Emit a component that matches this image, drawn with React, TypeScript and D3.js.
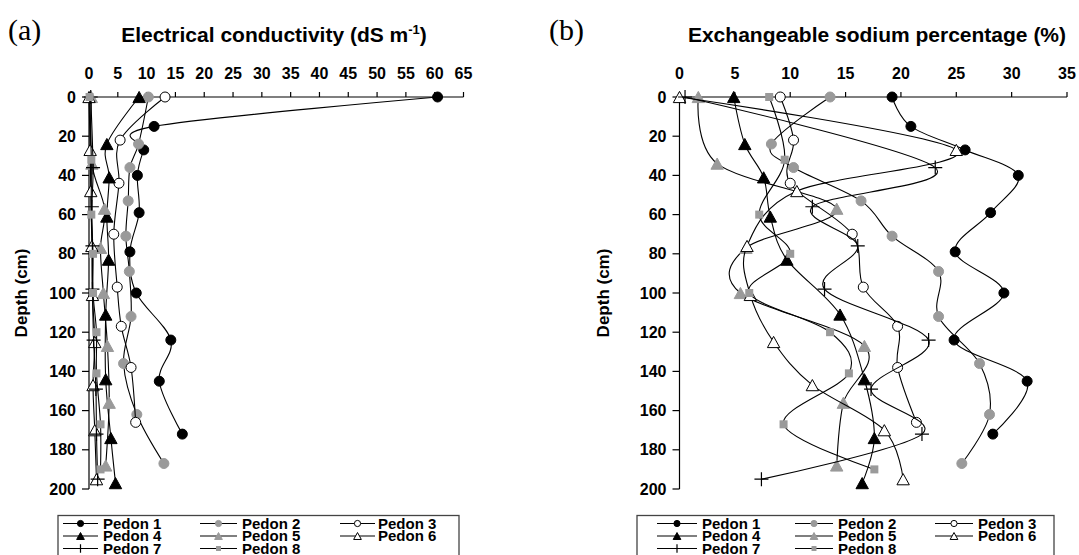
import React from "react";
import * as d3 from "d3";

const pedonNames = ["Pedon 1", "Pedon 2", "Pedon 3", "Pedon 4", "Pedon 5", "Pedon 6", "Pedon 7", "Pedon 8"];

// sampling depths (cm) of each pedon
const depthP1 = [0, 15, 27, 40, 59, 79, 100, 124, 145, 172];
const depthP2 = [0, 24, 36, 53, 71, 89, 112, 136, 162, 187];
const depthP3 = [0, 22, 44, 70, 97, 117, 138, 166];
const depthP4 = [0, 24, 41, 61, 83, 111, 144, 174, 197];
const depthP5 = [0, 34, 57, 77, 100, 127, 156, 188];
const depthP6 = [0, 27, 48, 76, 101, 125, 147, 170, 195];
const depthP7 = [0, 36, 56, 76, 98, 124, 149, 172, 195];
const depthP8 = [0, 32, 60, 80, 100, 120, 141, 167, 190];

// electrical conductivity (dS m-1)
const ecP1 = [60.5, 11.3, 9.5, 8.4, 8.7, 7.1, 8.2, 14.2, 12.2, 16.2];
const ecP2 = [10.3, 8.6, 7.1, 6.8, 6.4, 7.0, 7.3, 6.0, 8.3, 13.0];
const ecP3 = [13.2, 5.4, 5.2, 4.3, 4.9, 5.6, 7.3, 8.1];
const ecP4 = [8.7, 3.1, 3.5, 3.1, 3.4, 2.9, 2.9, 3.8, 4.6];
const ecP5 = [0.4, 0.5, 2.7, 2.0, 2.5, 3.2, 3.5, 2.9];
const ecP6 = [0.0, 0.2, 0.3, 0.5, 0.6, 1.0, 0.7, 1.0, 1.3];
const ecP7 = [0.3, 0.7, 0.5, 0.6, 0.6, 0.8, 1.2, 1.3, 1.5];
const ecP8 = [0.1, 0.4, 0.4, 0.7, 0.7, 1.3, 1.3, 2.0, 2.0];

// exchangeable sodium percentage (%)
const espP1 = [19.2, 20.9, 25.8, 30.6, 28.1, 24.9, 29.3, 24.8, 31.4, 28.3];
const espP2 = [13.6, 8.3, 10.3, 16.4, 19.2, 23.4, 23.4, 27.1, 28.0, 25.5];
const espP3 = [9.1, 10.3, 10.0, 15.6, 16.6, 19.7, 19.7, 21.4];
const espP4 = [4.9, 5.9, 7.6, 8.2, 9.7, 14.5, 16.7, 17.6, 16.5];
const espP5 = [1.7, 3.4, 14.2, 6.0, 5.5, 16.7, 14.8, 14.2];
const espP6 = [0.0, 25.0, 10.6, 6.1, 6.4, 8.5, 12.0, 18.5, 20.2];
const espP7 = [0.5, 23.1, 12.0, 16.1, 13.1, 22.5, 17.3, 21.9, 7.4];
const espP8 = [8.1, 9.5, 7.2, 10.0, 6.3, 13.6, 15.3, 9.4, 17.6];

const ecTicks = [0, 5, 10, 15, 20, 25, 30, 35, 40, 45, 50, 55, 60, 65];
const espTicks = [0, 5, 10, 15, 20, 25, 30, 35];
const depthTicks = [0, 20, 40, 60, 80, 100, 120, 140, 160, 180, 200];

const depths = [depthP1, depthP2, depthP3, depthP4, depthP5, depthP6, depthP7, depthP8];
const ecSeries = [ecP1, ecP2, ecP3, ecP4, ecP5, ecP6, ecP7, ecP8];
const espSeries = [espP1, espP2, espP3, espP4, espP5, espP6, espP7, espP8];

type MarkerStyle = { shape: "circle" | "triangle" | "square" | "plus"; fill: string; stroke: string };
const GRAY = "#9a9a9a";
const markerStyles: MarkerStyle[] = [
  { shape: "circle", fill: "#000", stroke: "#000" },
  { shape: "circle", fill: GRAY, stroke: GRAY },
  { shape: "circle", fill: "#fff", stroke: "#000" },
  { shape: "triangle", fill: "#000", stroke: "#000" },
  { shape: "triangle", fill: GRAY, stroke: GRAY },
  { shape: "triangle", fill: "#fff", stroke: "#000" },
  { shape: "plus", fill: "none", stroke: "#000" },
  { shape: "square", fill: GRAY, stroke: GRAY },
];

const FONT = "Arial, 'Liberation Sans', Helvetica, sans-serif";

function Marker({ x, y, st, s }: { x: number; y: number; st: MarkerStyle; s: number }) {
  if (st.shape === "circle") {
    return <circle cx={x} cy={y} r={5 * s} fill={st.fill} stroke={st.stroke} strokeWidth={1} />;
  }
  if (st.shape === "triangle") {
    const w = 6.2 * s, h = 5.6 * s;
    return (
      <path
        d={`M${x},${y - h}L${x + w},${y + h}L${x - w},${y + h}Z`}
        fill={st.fill}
        stroke={st.stroke}
        strokeWidth={1}
      />
    );
  }
  if (st.shape === "square") {
    const h = 4 * s;
    return <rect x={x - h} y={y - h} width={2 * h} height={2 * h} fill={st.fill} />;
  }
  const h = 7 * s;
  return (
    <path d={`M${x - h},${y}H${x + h}M${x},${y - h}V${y + h}`} stroke={st.stroke} strokeWidth={1.2} fill="none" />
  );
}

function Panel({
  x0, x1, y0, y1, domainMax, ticks, series, title, titleX, tag, tagX, depthLabelX,
}: {
  x0: number; x1: number; y0: number; y1: number; domainMax: number; ticks: number[];
  series: number[][]; title: React.ReactNode; titleX: number; tag: string; tagX: number; depthLabelX: number;
}) {
  const xs = d3.scaleLinear().domain([0, domainMax]).range([x0, x1]);
  const ys = d3.scaleLinear().domain([0, 200]).range([y0, y1]);
  const curve = d3.curveCatmullRom.alpha(0);
  return (
    <g>
      <text x={tagX} y={40} fontFamily="'Liberation Serif', 'Times New Roman', serif" fontSize={30}>{tag}</text>
      <text x={titleX} y={42} textAnchor="middle" fontFamily={FONT} fontWeight="bold" fontSize={21}>{title}</text>
      {/* x axis */}
      <line x1={x0} x2={x1} y1={y0} y2={y0} stroke="#000" strokeWidth={1.2} />
      {ticks.map((t) => (
        <g key={"xt" + t}>
          <line x1={xs(t)} x2={xs(t)} y1={y0 - 5} y2={y0} stroke="#000" strokeWidth={1.2} />
          <text x={xs(t)} y={79} textAnchor="middle" fontFamily={FONT} fontWeight="bold" fontSize={16}>{t}</text>
        </g>
      ))}
      {/* y axis */}
      <line x1={x0} x2={x0} y1={y0} y2={y1} stroke="#000" strokeWidth={1.2} />
      {depthTicks.map((t) => (
        <g key={"yt" + t}>
          <line x1={x0 - 7} x2={x0} y1={ys(t)} y2={ys(t)} stroke="#000" strokeWidth={1.2} />
          <text x={x0 - 13} y={ys(t) + 5.5} textAnchor="end" fontFamily={FONT} fontWeight="bold" fontSize={16}>{t}</text>
        </g>
      ))}
      <text
        transform={`translate(${depthLabelX},${(y0 + y1) / 2}) rotate(-90)`}
        textAnchor="middle"
        fontFamily={FONT}
        fontWeight="bold"
        fontSize={17}
      >
        Depth (cm)
      </text>
      {series.map((vals, i) => {
        const pts: [number, number][] = vals.map((v, j) => [xs(v), ys(depths[i][j])]);
        const path = d3.line().curve(curve)(pts) || "";
        return (
          <g key={"s" + i}>
            <path d={path} fill="none" stroke="#000" strokeWidth={1.1} />
            {pts.map((p, j) => (
              <Marker key={j} x={p[0]} y={p[1]} st={markerStyles[i]} s={1} />
            ))}
          </g>
        );
      })}
    </g>
  );
}

function Legend({ left, right, cols }: { left: number; right: number; cols: { line: [number, number]; text: number }[] }) {
  const rowY = [523.5, 536, 548.5];
  return (
    <g>
      <rect x={left} y={515.5} width={right - left} height={60} fill="#fff" stroke="#444" strokeWidth={1.3} />
      {pedonNames.map((name, i) => {
        const r = Math.floor(i / 3), c = i % 3;
        const col = cols[c];
        const y = rowY[r];
        const mx = (col.line[0] + col.line[1]) / 2;
        return (
          <g key={name}>
            <line x1={col.line[0]} x2={col.line[1]} y1={y} y2={y} stroke="#000" strokeWidth={1.2} />
            <Marker x={mx} y={y} st={markerStyles[i]} s={0.62} />
            <text x={col.text} y={y + 5} fontFamily={FONT} fontWeight="bold" fontSize={15}>{name}</text>
          </g>
        );
      })}
    </g>
  );
}

export default function App() {
  return (
    <svg width={1079} height={555} style={{ position: "absolute", left: 0, top: 0, background: "#fff" }}>
      <rect width={1079} height={555} fill="#fff" />
      <Panel
        x0={89} x1={463.5} y0={97} y1={489} domainMax={65} ticks={ecTicks} series={ecSeries}
        title={<tspan>Electrical conductivity (dS m<tspan fontSize={13} dy={-8}>-1</tspan><tspan dy={8}>)</tspan></tspan>}
        titleX={274} tag="(a)" tagX={8} depthLabelX={27}
      />
      <Panel
        x0={679.5} x1={1067} y0={97} y1={489} domainMax={35} ticks={espTicks} series={espSeries}
        title="Exchangeable sodium percentage (%)" titleX={877} tag="(b)" tagX={549} depthLabelX={609}
      />
      <Legend left={58} right={459} cols={[{ line: [63, 98], text: 103 }, { line: [200, 237], text: 242 }, { line: [340, 375], text: 378 }]} />
      <Legend left={637} right={1054} cols={[{ line: [657, 697], text: 702 }, { line: [795, 833], text: 838 }, { line: [935, 973], text: 978 }]} />
    </svg>
  );
}
